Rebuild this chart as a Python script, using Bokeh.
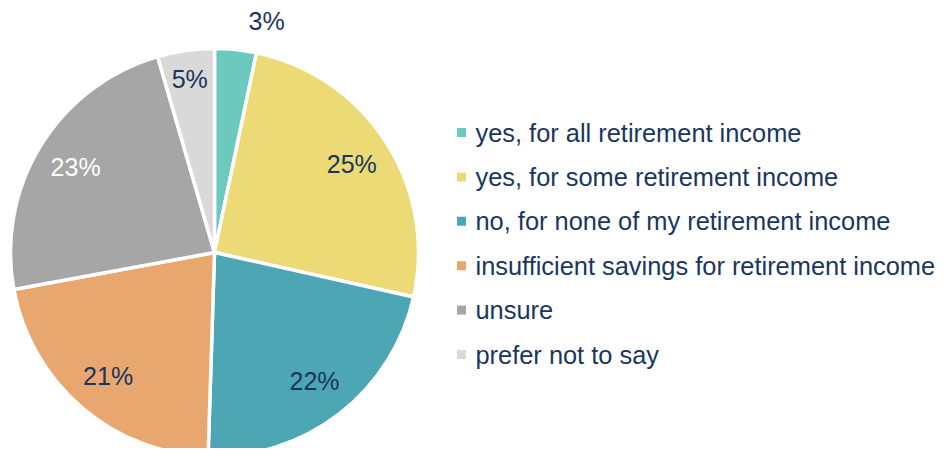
import math
from bokeh.plotting import figure
from bokeh.models import ColumnDataSource
from bokeh.core.properties import value
from bokeh.embed import file_html
from bokeh.resources import INLINE

categories = ["yes, for all retirement income", "yes, for some retirement income",
              "no, for none of my retirement income", "insufficient savings for retirement income",
              "unsure", "prefer not to say"]
shares = [3.3, 25.2, 22.0, 21.6, 23.4, 4.5]
pct_labels = ["3%", "25%", "22%", "21%", "23%", "5%"]
colors = ["#6CC9BE", "#EBDA75", "#4DA6B3", "#E8A76E", "#A6A6A6", "#D9D9D9"]
label_colors = ["#1B365D", "#1B365D", "#1B365D", "#1B365D", "#FFFFFF", "#1B365D"]

W, H = 942, 448
CX, CY, R = 214, H - 252, 204
FONT = "Liberation Sans"
TXT = "#1B365D"

total = sum(shares)
starts, ends, lx, ly, xoff = [], [], [], [], []
cum = 0.0
for i, s in enumerate(shares):
    a0 = math.pi / 2 - 2 * math.pi * cum / total
    cum += s
    a1 = math.pi / 2 - 2 * math.pi * cum / total
    starts.append(a0)
    ends.append(a1)
    mid = (a0 + a1) / 2
    rf = 1.14 if i == 0 else (0.86 if i == 5 else 0.8)
    lx.append(CX + rf * R * math.cos(mid))
    ly.append(CY + rf * R * math.sin(mid))
    xoff.append(28 if i == 0 else 0)

p = figure(width=W, height=H, x_range=(0, W), y_range=(0, H), output_backend="svg",
           toolbar_location=None, x_axis_type=None, y_axis_type=None, min_border=0,
           outline_line_color=None)
p.grid.visible = False
p.background_fill_color = "white"

src = ColumnDataSource(dict(start=starts, end=ends, color=colors))
p.wedge(x=CX, y=CY, radius=R, start_angle="start", end_angle="end", direction="clock",
        fill_color="color", line_color="white", line_width=3.5, source=src)

lsrc = ColumnDataSource(dict(x=lx, y=ly, t=pct_labels, c=label_colors, xo=xoff))
p.text(x="x", y="y", text="t", text_color="c", x_offset="xo", source=lsrc,
       text_font=value(FONT), text_font_size="25px", text_align="center", text_baseline="middle")

# legend
LX, LY0, DY = 461, H - 132, 44.4
leg_y = [LY0 - i * DY for i in range(len(categories))]
gsrc = ColumnDataSource(dict(x=[LX] * len(categories), y=leg_y, c=colors,
                             tx=[LX + 14] * len(categories), t=categories))
p.scatter(x="x", y="y", marker="square", size=9, fill_color="c", line_color=None, source=gsrc)
p.text(x="tx", y="y", text="t", source=gsrc, text_color=TXT, text_font=value(FONT),
       text_font_size="25.4px", text_align="left", text_baseline="middle")

open("out.html", "w").write(file_html(p, INLINE))
